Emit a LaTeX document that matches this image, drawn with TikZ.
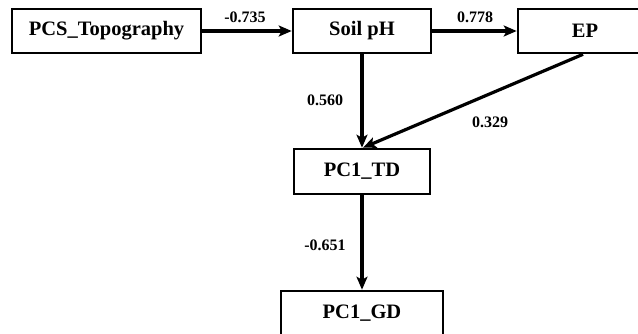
\documentclass[tikz,border=0pt]{standalone}
\usepackage{fontspec}
\setmainfont{Liberation Serif}
\usetikzlibrary{arrows.meta}
\begin{document}
\begin{tikzpicture}[x=1pt,y=-1pt,
  box/.style={draw,line width=2.6pt,rectangle,inner sep=0pt,font=\fontsize{20.5}{22}\selectfont\bfseries},
  conn/.style={line width=3.2pt,-{Stealth[length=13pt,width=11pt,inset=3pt]}},
  lbl/.style={font=\fontsize{16}{18}\selectfont\bfseries,inner sep=0pt}]
\useasboundingbox (0,0) rectangle (638,333);
\clip (0,0) rectangle (638,333);
\node[box,minimum width=189pt,minimum height=44pt] (pcs) at (106.5,31) {PCS\_Topography};
\node[box,minimum width=138pt,minimum height=44pt] (ph) at (362,31) {Soil pH};
\node[box,minimum width=134pt,minimum height=44pt] (ep) at (585,31) {EP};
\node[box,minimum width=136pt,minimum height=45pt] (td) at (362,171.5) {PC1\_TD};
\node[box,minimum width=162pt,minimum height=44pt] (gd) at (362,313) {PC1\_GD};
\draw[conn] (pcs.east) -- (ph.west);
\draw[conn] (ph.east) -- (ep.west);
\draw[conn] (ph.south) -- (td.north);
\draw[conn] ([xshift=-2pt]ep.south) -- ([xshift=1pt]td.north);
\draw[conn] (td.south) -- (gd.north);
\node[lbl] (l1) at (245,17) {-0.735};
\node[lbl] (l2) at (475,17) {0.778};
\node[lbl] (l3) at (325,100) {0.560};
\node[lbl] (l4) at (490,122) {0.329};
\node[lbl] (l5) at (325,245) {-0.651};
\end{tikzpicture}
\end{document}
